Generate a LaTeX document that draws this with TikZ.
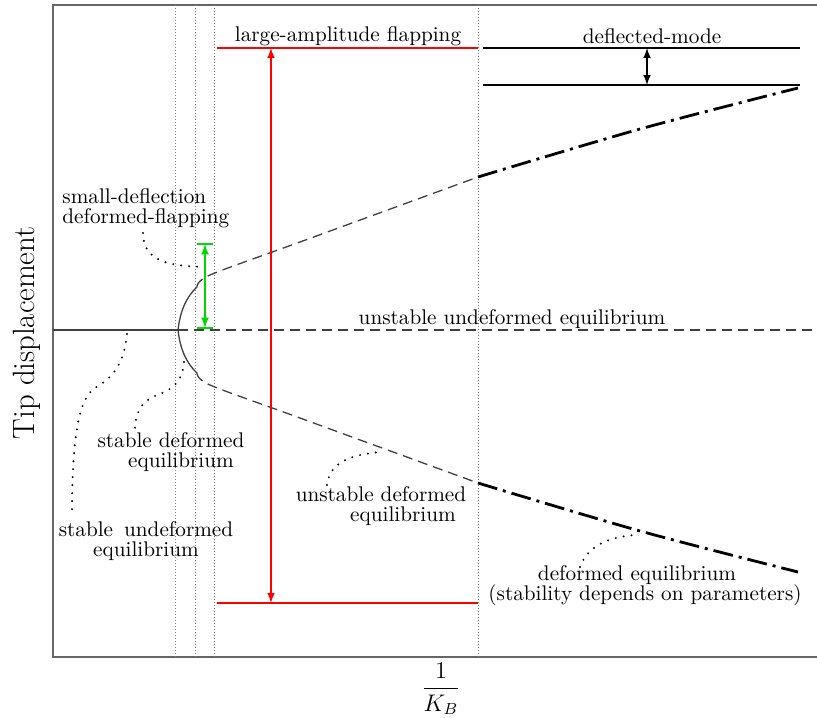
\documentclass[tikz,border=0pt]{standalone}
\usepackage{amsmath}

\begin{document}
\begin{tikzpicture}[x=0.5pt, y=-0.5pt, >=latex,
		every node/.style={font=\fontsize{10.6pt}{12.7pt}\selectfont},
		guide/.style={gray, line width=0.4pt, dash pattern=on 0.5pt off 1pt},
		leader/.style={line width=1.1pt, dash pattern=on 0pt off 4pt, line cap=round},
		branch/.style={black!75, line width=0.65pt, dash pattern=on 5pt off 3pt},
		mixed/.style={black, line width=1.4pt, dash pattern=on 10pt off 3pt on 1.5pt off 3pt}]
		\useasboundingbox (0, 0) rectangle (817, 717);
		\draw[black!60, line width=1pt] (817, 5) -- (53, 5) -- (53, 657) -- (817, 657);
		\foreach \x in {175, 195, 214, 478}
			\draw[guide] (\x, 5) -- (\x, 657);
		
		% trivial branch
		\draw[black!75, line width=0.8pt] (53, 330) -- (178, 330);
		\draw[black!75, line width=0.8pt, dash pattern=on 5pt off 3pt] (178, 330) -- (817, 330);
		% deformed branches
		\draw[black!75, line width=0.65pt] (178, 330) .. controls (180, 312) and (186, 297) .. (197, 287);
		\draw[black!75, line width=0.65pt] (178, 330) .. controls (180, 348) and (186, 363) .. (197, 373);
		\draw[branch] plot[smooth] coordinates {(197, 287) (210, 275) (300, 242) (478, 177)};
		\draw[branch] plot[smooth] coordinates {(197, 373) (210, 385) (300, 418) (478, 483)};
		\draw[mixed] plot[smooth] coordinates {(478, 177) (640, 129) (798, 88)};
		\draw[mixed] plot[smooth] coordinates {(478, 483) (640, 531) (798, 572)};
		
		% amplitudes
		\coordinate (ft) at (271, 48);
		\coordinate (fb) at (271, 603);
		\draw[red, line width=0.7pt] (217, 48) -- (478, 48);
		\draw[red, line width=0.7pt] (217, 603) -- (478, 603);
		\draw[red, line width=0.7pt, <->] (ft) -- (fb);
		\coordinate (dt) at (647, 48);
		\coordinate (db) at (647, 85);
		\draw[line width=0.7pt] (483, 48) -- (800, 48);
		\draw[line width=0.7pt] (483, 85) -- (800, 85);
		\draw[line width=0.7pt, <->] (dt) -- (db);
		\coordinate (gt) at (205, 244);
		\coordinate (gb) at (205, 328);
		\draw[green!85!black, line width=0.8pt] (197, 244) -- (213, 244);
		\draw[green!85!black, line width=0.8pt] (197, 328) -- (213, 328);
		\draw[green!85!black, line width=0.8pt, <->] (gt) -- (gb);
		
		% labels
		\node (lf) at (348, 36) {large-amplitude flapping};
		\node (dm) at (652, 36) {deflected-mode};
		\node (uu) at (512, 319) {unstable undeformed equilibrium};
		\node[align=left, anchor=west, inner sep=0pt] (sd) at (62, 208)
			{small-deflection\\[-2.7pt]deformed-flapping};
		\node[align=center] (su) at (146, 541)
			{stable\hspace{2pt} undeformed\\[-2.7pt]equilibrium};
		\node[align=center] (sq) at (171, 452)
			{stable deformed\\[-2.7pt]\hspace*{10pt}equilibrium};
		\node[align=center] (ud) at (381, 506)
			{unstable deformed\\[-2.7pt]\hspace*{22pt}equilibrium};
		\node[align=center] (de) at (645, 586)
			{deformed equilibrium\hspace*{8pt}\\[-2.7pt](stability depends on parameters)};
		\node[rotate=90, font=\fontsize{15.4pt}{18pt}\selectfont] (yl) at (27, 333) {Tip displacement};
		\node[font=\fontsize{12pt}{14pt}\selectfont] (xl) at (441, 689) {$\dfrac{1}{K_B}$};
		
		% leaders
		\coordinate (sd1) at (143, 233);
		\coordinate (sd2) at (205, 267);
		\draw[leader] (sd1) .. controls (143, 262) and (170, 266) .. (sd2);
		\coordinate (su1) at (72, 517);
		\coordinate (su2) at (127, 334);
		\draw[leader] (su2) .. controls (124, 365) and (112, 378) .. (95, 388)
			.. controls (80, 398) and (72, 430) .. (su1);
		\coordinate (sq1) at (135, 430);
		\coordinate (sq2) at (184, 362);
		\draw[leader] (sq2) .. controls (182, 385) and (170, 390) .. (155, 396)
			.. controls (140, 402) and (135, 415) .. (sq1);
		\coordinate (ud1) at (327, 485);
		\coordinate (ud2) at (380, 452);
		\draw[leader] (ud1) .. controls (330, 462) and (350, 455) .. (ud2);
		\coordinate (de1) at (580, 567);
		\coordinate (de2) at (635, 535);
		\draw[leader] (de1) .. controls (588, 545) and (610, 537) .. (de2);
\end{tikzpicture}
\end{document}
